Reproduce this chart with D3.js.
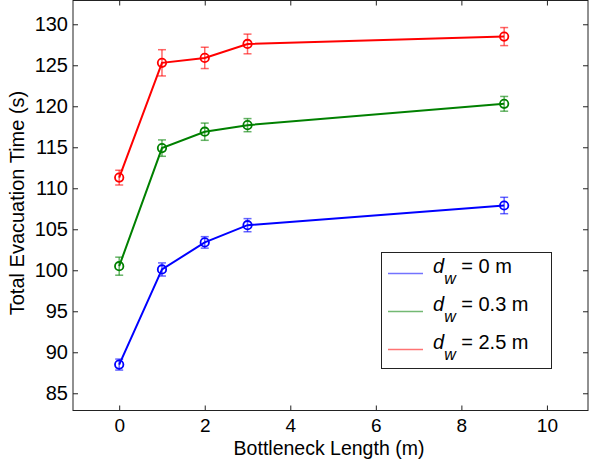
<!DOCTYPE html>
<html><head><meta charset="utf-8">
<script src="https://cdn.jsdelivr.net/npm/d3@7"></script>
<style>body{margin:0;background:#fff}svg{display:block;font-family:"Liberation Sans",Arial,sans-serif}</style>
</head><body><svg id="c" width="590" height="467"></svg>
<script>
const xValues = [0, 1, 2, 3, 9];
const seriesNames = ["0", "0.3", "2.5"];
const seriesColors = ["#0000ff", "#008000", "#ff0000"];
const meansDw0 = [88.5, 100.1, 103.4, 105.5, 107.9];
const errDw0 = [0.67, 0.8, 0.7, 0.8, 1.0];
const meansDw03 = [100.5, 114.9, 116.9, 117.7, 120.3];
const errDw03 = [1.1, 1.0, 1.05, 0.8, 0.9];
const meansDw25 = [111.3, 125.3, 125.9, 127.6, 128.5];
const errDw25 = [0.9, 1.6, 1.3, 1.2, 1.1];
const xTicks = [0, 2, 4, 6, 8, 10];
const yTicks = [85, 90, 95, 100, 105, 110, 115, 120, 125, 130];

const series = [
  {name: seriesNames[0], color: seriesColors[0], y: meansDw0, e: errDw0},
  {name: seriesNames[1], color: seriesColors[1], y: meansDw03, e: errDw03},
  {name: seriesNames[2], color: seriesColors[2], y: meansDw25, e: errDw25}
];

const L = 73, R = 588, T = 0.5, B = 410.5;
const x = d3.scaleLinear().domain([-1.08, 10.96]).range([L, R]);
const y = d3.scaleLinear().domain([82.9, 132.9]).range([B, T]);
const svg = d3.select("#c");

const fs = 20;
const gx = svg.append("g").attr("transform", `translate(0,${B})`)
  .call(d3.axisBottom(x).tickValues(xTicks).tickSizeInner(-5).tickSizeOuter(0).tickPadding(8).tickFormat(d3.format("d")));
const gxt = svg.append("g").attr("transform", `translate(0,${T})`)
  .call(d3.axisTop(x).tickValues(xTicks).tickSizeInner(-5).tickSizeOuter(0).tickFormat(""));
const gy = svg.append("g").attr("transform", `translate(${L},0)`)
  .call(d3.axisLeft(y).tickValues(yTicks).tickSizeInner(-5).tickSizeOuter(0).tickPadding(5).tickFormat(d3.format("d")));
const gyr = svg.append("g").attr("transform", `translate(${R},0)`)
  .call(d3.axisRight(y).tickValues(yTicks).tickSizeInner(-5).tickSizeOuter(0).tickFormat(""));
[gx, gxt, gy, gyr].forEach(g => {
  g.select(".domain").remove();
  g.selectAll("line").attr("stroke", "#222");
  g.selectAll("text").attr("font-size", fs).attr("fill", "#000").attr("font-family", "Liberation Sans, Arial, sans-serif");
});
gx.selectAll("text").attr("font-size", 19).attr("dy", "0.71em");
svg.append("rect").attr("x", L).attr("y", T).attr("width", R - L).attr("height", B - T)
  .attr("fill", "none").attr("stroke", "#222").attr("stroke-width", 1);

series.forEach(s => {
  const pts = xValues.map((xv, i) => ({x: xv, y: s.y[i], e: s.e[i]}));
  const g = svg.append("g");
  pts.forEach(p => {
    const eb = g.append("g").attr("stroke", s.color).attr("stroke-opacity", 0.6).attr("stroke-width", 1.5);
    eb.append("line").attr("x1", x(p.x)).attr("x2", x(p.x)).attr("y1", y(p.y - p.e)).attr("y2", y(p.y + p.e));
    [p.y - p.e, p.y + p.e].forEach(v => eb.append("line")
      .attr("x1", x(p.x) - 4).attr("x2", x(p.x) + 4).attr("y1", y(v)).attr("y2", y(v)));
  });
  g.append("path").datum(pts)
    .attr("d", d3.line().x(d => x(d.x)).y(d => y(d.y)))
    .attr("fill", "none").attr("stroke", s.color).attr("stroke-width", 2);
  g.selectAll("circle").data(pts).join("circle")
    .attr("cx", d => x(d.x)).attr("cy", d => y(d.y)).attr("r", 4.2)
    .attr("fill", "none").attr("stroke", s.color).attr("stroke-width", 1.8);
});

svg.append("text").attr("x", 329).attr("y", 455).attr("text-anchor", "middle")
  .attr("font-size", 19.5).text("Bottleneck Length (m)");
svg.append("text").attr("transform", `translate(24,203) rotate(-90)`).attr("text-anchor", "middle")
  .attr("font-size", fs).text("Total Evacuation Time (s)");

const lg = svg.append("g");
lg.append("rect").attr("x", 381.5).attr("y", 252.5).attr("width", 170).attr("height", 116)
  .attr("fill", "#fff").attr("stroke", "#222").attr("stroke-width", 1);
series.forEach((s, i) => {
  const yy = 273.5 + i * 38;
  lg.append("line").attr("x1", 388).attr("x2", 423).attr("y1", yy).attr("y2", yy)
    .attr("stroke", s.color).attr("stroke-opacity", 0.55).attr("stroke-width", 1.5);
  const t = lg.append("text").attr("x", 433).attr("y", yy - 1).attr("font-size", fs);
  t.append("tspan").attr("font-style", "italic").text("d");
  t.append("tspan").attr("font-style", "italic").attr("font-size", 16).attr("dy", 11).text("w");
  t.append("tspan").attr("dy", -11).text(" = " + s.name + " m");
});
</script></body></html>
